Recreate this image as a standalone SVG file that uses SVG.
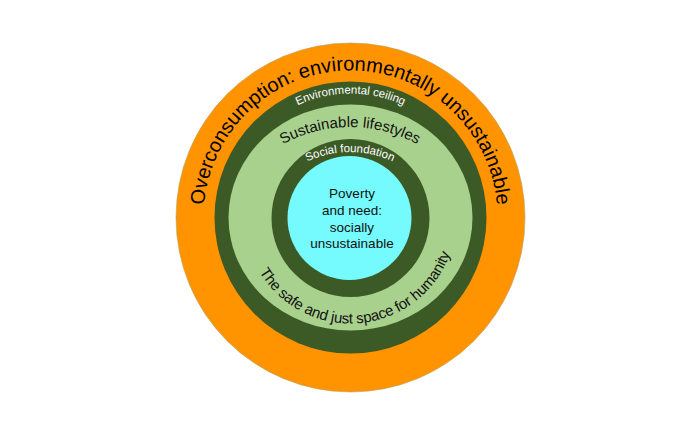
<svg xmlns="http://www.w3.org/2000/svg" width="700" height="438" viewBox="0 0 700 438">
<style>
.lbl{font-family:"Liberation Sans",Arial,sans-serif;}
.big{font-size:20px;fill:#000;}
.ring{font-size:11.5px;fill:#fff;}
.mid{font-size:15px;fill:#111;}
.core{font-size:13.5px;fill:#111;text-anchor:middle;}
</style>
<defs>
<path id="pOver" d="M350.5 364.5 A147 147 0 1 1 350.5 70.5 A147 147 0 1 1 350.5 364.5"/>
<path id="pEnv" d="M226.5 217.5 A124 124 0 0 1 474.5 217.5"/>
<path id="pSust" d="M211 266 A139 139 0 0 1 489 266"/>
<path id="pSoc" d="M250 252 A100 100 0 0 1 450 252"/>
<path id="pSafe" d="M350.5 111.5 A106 106 0 1 0 350.5 323.5 A106 106 0 1 0 350.5 111.5"/>
</defs>
<rect width="700" height="438" fill="#fff"/>
<g id="overconsumption">
<circle cx="350.5" cy="217.5" r="174.5" fill="#FF9300" stroke="#B8A060" stroke-width="0.6"/>
<text class="lbl big"><textPath href="#pOver" startOffset="50%" text-anchor="middle">Overconsumption: environmentally unsustainable</textPath></text>
</g>
<g id="environmental-ceiling">
<circle cx="350.5" cy="217.5" r="136" fill="#3C5A26"/>
<text class="lbl ring"><textPath href="#pEnv" startOffset="50%" text-anchor="middle">Environmental ceiling</textPath></text>
</g>
<g id="safe-space">
<ellipse cx="350.5" cy="217.5" rx="122" ry="113" fill="#A9D18E"/>
<text class="lbl mid"><textPath href="#pSust" startOffset="50%" text-anchor="middle">Sustainable lifestyles</textPath></text>
<text class="lbl mid" letter-spacing="-0.2"><textPath href="#pSafe" startOffset="51.5%" text-anchor="middle">The safe and just space for humanity</textPath></text>
</g>
<g id="social-foundation">
<circle cx="350.5" cy="218" r="79" fill="#3C5A26"/>
<text class="lbl ring"><textPath href="#pSoc" startOffset="50%" text-anchor="middle">Social foundation</textPath></text>
</g>
<g id="poverty">
<circle cx="349.5" cy="218" r="62" fill="#75FBFD"/>
<text class="lbl core" x="352" y="198">Poverty</text>
<text class="lbl core" x="352" y="215">and need:</text>
<text class="lbl core" x="352" y="231.5">socially</text>
<text class="lbl core" x="352" y="248">unsustainable</text>
</g>
</svg>
